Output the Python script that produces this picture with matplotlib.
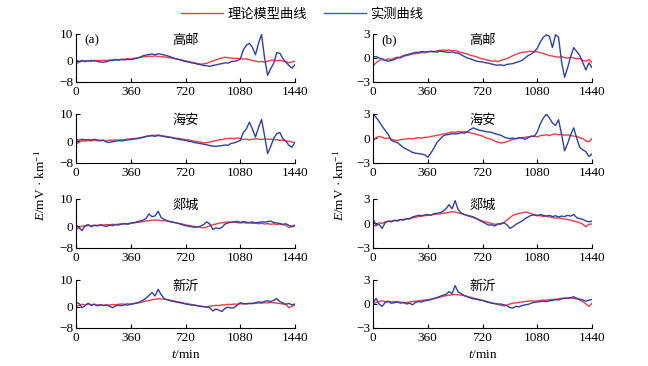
import numpy as np
import matplotlib
matplotlib.use("Agg")
import matplotlib.pyplot as plt
from matplotlib.lines import Line2D

plt.rcParams['font.family'] = ['Liberation Serif', 'Noto Sans CJK SC', 'DejaVu Sans']
plt.rcParams['mathtext.fontset'] = 'custom'
plt.rcParams['mathtext.rm'] = 'Liberation Serif'
plt.rcParams['mathtext.it'] = 'Liberation Serif:italic'

t = np.arange(0, 1441, 20)

stations = ["高邮", "海安", "郯城", "新沂"]
x_ticks = [0, 360, 720, 1080, 1440]
y_ticks_a = [-8, 0, 10]
y_ticks_b = [-3, 0, 3]
legend_labels = ["理论模型曲线", "实测曲线"]

# ---- column (a) ----
a_gaoyou_meas = [0.2,-0.3,0.1,-0.4,0.0,-0.2,0.1,-0.3,-0.5,-0.6,-0.4,0.0,0.1,0.3,0.2,0.4,0.3,0.5,0.4,0.6,
                 0.9,1.3,1.8,2.1,2.3,2.5,2.2,2.6,2.4,2.1,1.8,1.5,1.0,0.7,0.4,0.0,-0.3,-0.5,-0.8,-1.0,
                 -1.3,-1.5,-1.8,-1.9,-2.1,-1.8,-1.6,-1.3,-1.1,-0.8,-0.9,-0.4,-0.2,0.0,0.6,4.0,5.8,6.5,5.0,2.2,
                 6.5,9.8,1.0,-5.5,-3.0,-1.0,3.0,2.8,0.8,-0.5,-1.8,-2.8,-1.5]
a_gaoyou_model = [-1.2,-0.6,-0.2,0.0,-0.2,0.1,-0.1,0.1,0.0,0.2,0.0,0.2,0.3,0.5,0.3,0.6,0.5,0.8,0.6,0.9,
                  1.0,1.2,1.4,1.5,1.7,1.6,1.8,1.6,1.5,1.4,1.2,1.0,0.9,0.6,0.4,0.2,-0.1,-0.3,-0.6,-0.8,
                  -1.1,-1.3,-1.2,-1.0,-0.5,-0.1,0.3,0.7,1.0,1.3,1.1,1.0,0.8,0.9,0.7,0.6,0.7,0.4,0.1,-0.2,
                  -0.4,-0.3,-0.6,-0.2,0.1,0.2,-0.1,0.2,-0.2,-0.4,-0.8,-0.5,-0.2]
a_haian_meas = [0.6,0.4,0.7,0.5,0.6,0.4,0.7,0.5,0.3,0.4,-0.3,-0.4,-0.2,0.0,0.2,0.1,0.3,0.5,0.6,0.8,
                0.9,1.1,1.4,1.7,1.9,2.0,1.8,2.1,1.9,1.7,1.5,1.4,1.1,0.9,0.6,0.5,0.3,0.0,-0.2,-0.5,
                -0.7,-0.9,-1.1,-1.3,-1.6,-1.8,-1.9,-1.7,-1.6,-1.4,-1.5,-0.8,-0.6,-0.2,0.3,3.2,4.5,7.0,4.5,1.5,
                5.0,8.0,2.0,-4.5,-2.0,1.0,2.8,3.2,1.0,0.0,-1.5,-2.2,-0.5]
a_haian_model = [-1.0,-0.4,0.2,0.0,0.3,0.1,0.4,0.2,0.1,0.3,0.2,0.4,0.3,0.5,0.4,0.6,0.5,0.8,0.9,1.0,
                 1.1,1.3,1.5,1.8,2.0,2.2,2.1,2.3,2.1,1.9,1.7,1.5,1.3,1.1,1.0,0.8,0.6,0.5,0.2,0.0,
                 -0.1,-0.4,-0.6,-0.5,-0.3,0.0,0.2,0.5,0.6,0.9,1.0,1.1,0.9,1.2,1.0,0.6,0.8,0.5,0.7,0.9,
                 0.8,0.6,0.9,0.7,0.8,0.5,0.6,0.3,0.4,0.1,0.0,-0.3,-0.6]
a_tancheng_meas = [0.6,-0.6,-1.6,0.2,0.6,-0.2,0.3,0.1,0.5,0.2,-0.1,0.4,0.2,0.6,0.4,0.8,1.0,0.7,1.1,1.3,
                   1.6,1.9,2.2,2.8,4.5,3.5,3.8,5.5,3.2,2.5,2.0,1.7,1.5,1.2,0.9,0.5,0.2,0.0,-0.2,-0.4,
                   -0.3,0.1,0.6,1.6,0.8,-1.2,-0.6,-0.9,-0.4,0.8,1.2,1.5,1.6,1.8,1.4,1.7,1.5,1.3,1.6,1.2,
                   1.4,1.6,1.5,1.7,1.9,1.4,1.2,1.0,0.7,0.9,0.3,0.0,0.4]
a_tancheng_model = [-1.1,-0.5,0.1,0.0,0.3,0.2,0.4,0.3,0.5,0.4,0.6,0.5,0.7,0.6,0.8,0.9,0.8,1.0,1.1,1.2,
                    1.4,1.5,1.7,1.9,2.0,2.2,2.3,2.2,2.1,2.0,1.9,1.6,1.4,1.2,1.0,0.8,0.5,0.3,0.1,-0.1,
                    -0.2,-0.4,-0.6,-0.3,0.2,0.5,0.8,1.1,1.3,1.4,1.6,1.4,1.5,1.3,1.2,1.4,1.1,1.3,1.0,1.2,
                    0.9,1.1,0.8,1.0,0.7,0.9,0.6,0.8,0.5,0.4,-0.5,-0.2,0.1]
a_xinyi_meas = [1.6,1.2,-0.4,0.4,1.3,0.5,0.9,0.3,0.7,0.4,0.6,0.2,-0.4,0.3,0.5,0.4,0.7,0.6,0.9,1.1,
                1.4,1.8,2.4,3.2,4.2,5.3,4.0,6.5,4.5,3.0,2.6,2.2,2.0,1.7,1.5,1.3,1.0,0.8,0.6,0.5,
                0.3,0.1,0.0,-0.2,-0.4,-1.6,-0.9,-1.3,-1.8,-0.6,-0.2,-0.5,-0.4,0.6,1.5,1.2,1.0,1.3,1.1,1.5,
                1.8,1.6,2.0,2.2,1.9,2.4,3.0,1.9,1.4,0.9,1.2,0.7,1.0]
a_xinyi_model = [0.2,0.5,0.9,0.6,1.0,0.7,0.9,0.6,0.8,0.5,0.7,0.6,0.8,0.7,0.9,1.0,0.9,1.1,1.0,1.2,
                 1.3,1.5,1.8,2.1,2.3,2.6,2.8,3.0,2.9,2.8,2.6,2.4,2.2,1.9,1.7,1.5,1.2,1.0,0.8,0.6,
                 0.4,0.2,0.0,-0.1,0.2,0.3,0.5,0.4,0.7,0.6,0.9,0.8,1.0,0.9,1.1,1.0,1.2,1.1,1.3,1.2,
                 1.4,1.3,1.5,1.4,1.6,1.5,1.3,1.2,1.0,0.8,-0.4,0.2,0.6]

# ---- column (b) ----
b_gaoyou_meas = [0.1,0.2,0.0,-0.1,-0.3,-0.4,-0.3,-0.2,0.0,0.1,0.3,0.4,0.5,0.6,0.7,0.7,0.8,0.75,0.8,0.85,
                 0.8,0.75,0.85,0.8,0.75,0.7,0.75,0.65,0.6,0.4,0.2,0.0,-0.1,-0.25,-0.4,-0.45,-0.5,-0.6,-0.65,-0.75,
                 -0.85,-0.9,-0.85,-0.95,-0.8,-0.75,-0.7,-0.55,-0.45,-0.3,0.0,0.3,0.5,0.8,1.2,2.0,2.6,2.9,2.7,1.3,
                 2.9,2.6,-0.5,-2.4,-1.2,0.2,1.3,0.8,0.3,-0.6,-1.5,-0.6,-1.2]
b_gaoyou_model = [-1.0,-0.6,-0.3,-0.2,-0.3,-0.1,-0.2,0.0,0.1,0.0,0.2,0.3,0.4,0.5,0.55,0.6,0.7,0.65,0.75,0.8,
                  0.75,0.9,0.95,1.0,0.95,1.0,0.9,0.95,0.8,0.7,0.6,0.5,0.35,0.25,0.15,0.0,-0.1,-0.2,-0.3,-0.4,
                  -0.35,-0.45,-0.3,-0.2,-0.05,0.1,0.3,0.45,0.6,0.7,0.75,0.8,0.85,0.75,0.8,0.65,0.55,0.45,0.3,0.25,
                  0.15,0.1,0.2,0.05,0.0,0.1,0.0,-0.1,-0.05,-0.3,-0.4,-0.2,-0.6]
b_haian_meas = [3.0,2.6,2.1,1.5,1.0,0.5,-0.2,-0.4,-0.5,-0.8,-1.1,-1.3,-1.5,-1.7,-1.8,-1.85,-1.9,-2.0,-2.3,-1.8,
                -1.2,-0.5,-0.1,0.3,0.45,0.5,0.6,0.55,0.6,0.7,0.65,0.8,1.1,1.3,1.15,1.0,0.95,0.85,0.8,0.75,
                0.6,0.5,0.4,0.2,0.05,0.0,0.05,-0.05,0.1,0.05,-0.1,0.1,0.3,0.25,0.8,1.8,2.5,3.0,2.5,1.9,
                1.6,2.3,0.5,-1.5,-0.6,0.5,1.3,0.0,-1.1,-1.4,-1.6,-2.2,-1.9]
b_haian_model = [-0.35,0.1,0.25,0.15,0.0,0.05,-0.1,-0.2,-0.25,-0.15,-0.1,-0.05,0.0,-0.05,0.05,0.1,0.05,0.15,0.15,0.25,
                 0.3,0.4,0.45,0.55,0.6,0.7,0.8,0.75,0.85,0.8,0.85,0.8,0.7,0.6,0.5,0.4,0.3,0.1,0.0,-0.1,
                 -0.3,-0.45,-0.55,-0.5,-0.4,-0.25,-0.1,0.0,0.05,0.1,0.15,0.2,0.25,0.3,0.2,0.35,0.4,0.45,0.35,0.5,
                 0.55,0.45,0.5,0.4,0.45,0.35,0.3,0.25,0.1,0.0,-0.3,-0.4,0.0]
b_tancheng_meas = [0.6,-0.2,-0.1,-0.6,0.1,0.3,0.2,0.4,0.35,0.5,0.4,0.6,0.55,0.8,0.9,1.0,0.95,1.05,1.1,1.0,
                   1.2,1.25,1.3,1.5,1.8,2.3,1.8,2.8,1.7,1.3,1.1,1.0,0.9,0.8,0.6,0.4,0.2,0.0,-0.2,-0.15,
                   -0.3,-0.1,0.0,0.1,-0.15,-0.6,-0.4,-0.1,0.1,0.3,0.6,0.8,1.0,1.05,0.95,1.1,1.0,0.9,1.0,0.85,
                   0.95,0.8,0.9,0.85,1.0,0.9,1.1,0.7,0.6,0.5,0.3,0.2,0.3]
b_tancheng_model = [-0.2,-0.3,0.1,0.0,0.2,0.25,0.3,0.35,0.3,0.45,0.5,0.55,0.6,0.7,0.75,0.85,0.9,0.95,1.0,1.05,
                    1.1,1.15,1.2,1.25,1.3,1.35,1.45,1.4,1.3,1.2,1.1,0.95,0.85,0.75,0.6,0.45,0.3,0.2,0.1,0.0,
                    -0.1,-0.05,-0.1,0.1,0.4,0.7,1.0,1.1,1.25,1.3,1.4,1.35,1.2,1.1,1.0,0.95,0.85,0.9,0.8,0.75,
                    0.65,0.7,0.6,0.55,0.5,0.4,0.3,0.2,0.1,-0.1,-0.4,-0.1,-0.05]
b_xinyi_meas = [0.1,0.7,0.0,-0.3,0.2,0.3,0.1,0.15,0.3,0.1,0.2,0.0,0.1,-0.1,0.2,0.3,0.25,0.4,0.45,0.55,
                0.7,0.8,0.95,1.1,1.2,1.55,1.3,2.3,1.5,1.3,1.05,0.9,0.75,0.65,0.6,0.5,0.45,0.3,0.2,0.1,
                0.05,0.0,0.0,-0.1,-0.2,-0.45,-0.5,-0.3,-0.35,-0.2,-0.1,-0.05,0.1,0.2,0.25,0.3,0.35,0.3,0.4,0.45,
                0.55,0.5,0.65,0.7,0.75,0.8,0.9,0.7,0.6,0.5,0.35,0.5,0.55]
b_xinyi_model = [0.0,0.2,0.3,0.4,0.3,0.35,0.25,0.3,0.2,0.25,0.15,0.2,0.25,0.3,0.35,0.4,0.45,0.5,0.55,0.6,
                 0.65,0.75,0.85,0.95,1.05,1.1,1.15,1.2,1.15,1.1,1.05,0.95,0.85,0.75,0.65,0.55,0.45,0.35,0.25,0.15,
                 0.05,-0.05,-0.15,-0.25,-0.15,0.0,0.1,0.15,0.2,0.25,0.3,0.35,0.4,0.35,0.4,0.45,0.5,0.45,0.55,0.55,
                 0.6,0.65,0.7,0.75,0.7,0.75,0.7,0.65,0.5,0.3,0.0,-0.3,0.1]

col_a_meas = [a_gaoyou_meas, a_haian_meas, a_tancheng_meas, a_xinyi_meas]
col_a_model = [a_gaoyou_model, a_haian_model, a_tancheng_model, a_xinyi_model]
col_b_meas = [b_gaoyou_meas, b_haian_meas, b_tancheng_meas, b_xinyi_meas]
col_b_model = [b_gaoyou_model, b_haian_model, b_tancheng_model, b_xinyi_model]

RED = '#f03c46'
BLUE = '#2c43a3'
FS = 9.5

fig = plt.figure(figsize=(6.48, 3.66), dpi=100)
W, H = 648, 366

col_x = [76, 373]
col_w = 219
rows = [(34, 82), (114, 163), (199, 248), (280, 328)]

def make_ax(x0, top, bot):
    return fig.add_axes([x0 / W, 1 - bot / H, col_w / W, (bot - top) / H])

for c, (meas_list, model_list, yt, lab) in enumerate([
        (col_a_meas, col_a_model, y_ticks_a, "(a)"),
        (col_b_meas, col_b_model, y_ticks_b, "(b)")]):
    for r in range(4):
        ax = make_ax(col_x[c], *rows[r])
        ax.plot(t, model_list[r], color=RED, lw=1.0)
        ax.plot(t, meas_list[r], color=BLUE, lw=1.0)
        ax.set_xlim(0, 1440)
        ax.set_ylim(yt[0], yt[-1])
        ax.set_xticks(x_ticks)
        ax.set_yticks(yt)
        ax.set_yticklabels([str(v).replace('-', '\u2212') for v in yt])
        for s in ['top', 'right']:
            ax.spines[s].set_visible(False)
        for s in ['left', 'bottom']:
            ax.spines[s].set_linewidth(0.8)
        ax.tick_params(direction='in', length=3, width=0.8, labelsize=FS, pad=2)
        ax.tick_params(axis='x', pad=3)
        ax.text(0.5, 0.87, stations[r], transform=ax.transAxes, ha='center', va='center',
                fontsize=FS, family=['Noto Sans CJK SC'])
        if r == 0:
            ax.text(0.04, 0.87, lab, transform=ax.transAxes, ha='left', va='center', fontsize=FS)

ylab = "$E$/mV \u00b7 km$^{-1}$"
fig.text(40 / W, 1 - 185 / H, ylab, rotation=90, ha='center', va='center', fontsize=FS)
fig.text(339 / W, 1 - 185 / H, ylab, rotation=90, ha='center', va='center', fontsize=FS)
fig.text(186 / W, 1 - 355 / H, "$t$/min", ha='center', va='center', fontsize=FS)
fig.text(483 / W, 1 - 355 / H, "$t$/min", ha='center', va='center', fontsize=FS)

handles = [Line2D([], [], color=RED, lw=1.0), Line2D([], [], color='#3a5cb5', lw=1.0)]
leg = fig.legend(handles, legend_labels, loc='center', bbox_to_anchor=(302 / W, 1 - 14 / H),
                 ncol=2, frameon=False, handlelength=3.2, handletextpad=0.3, columnspacing=1.3,
                 prop={'family': ['Noto Sans CJK SC'], 'size': FS})

fig.savefig("out.png", dpi=100)
